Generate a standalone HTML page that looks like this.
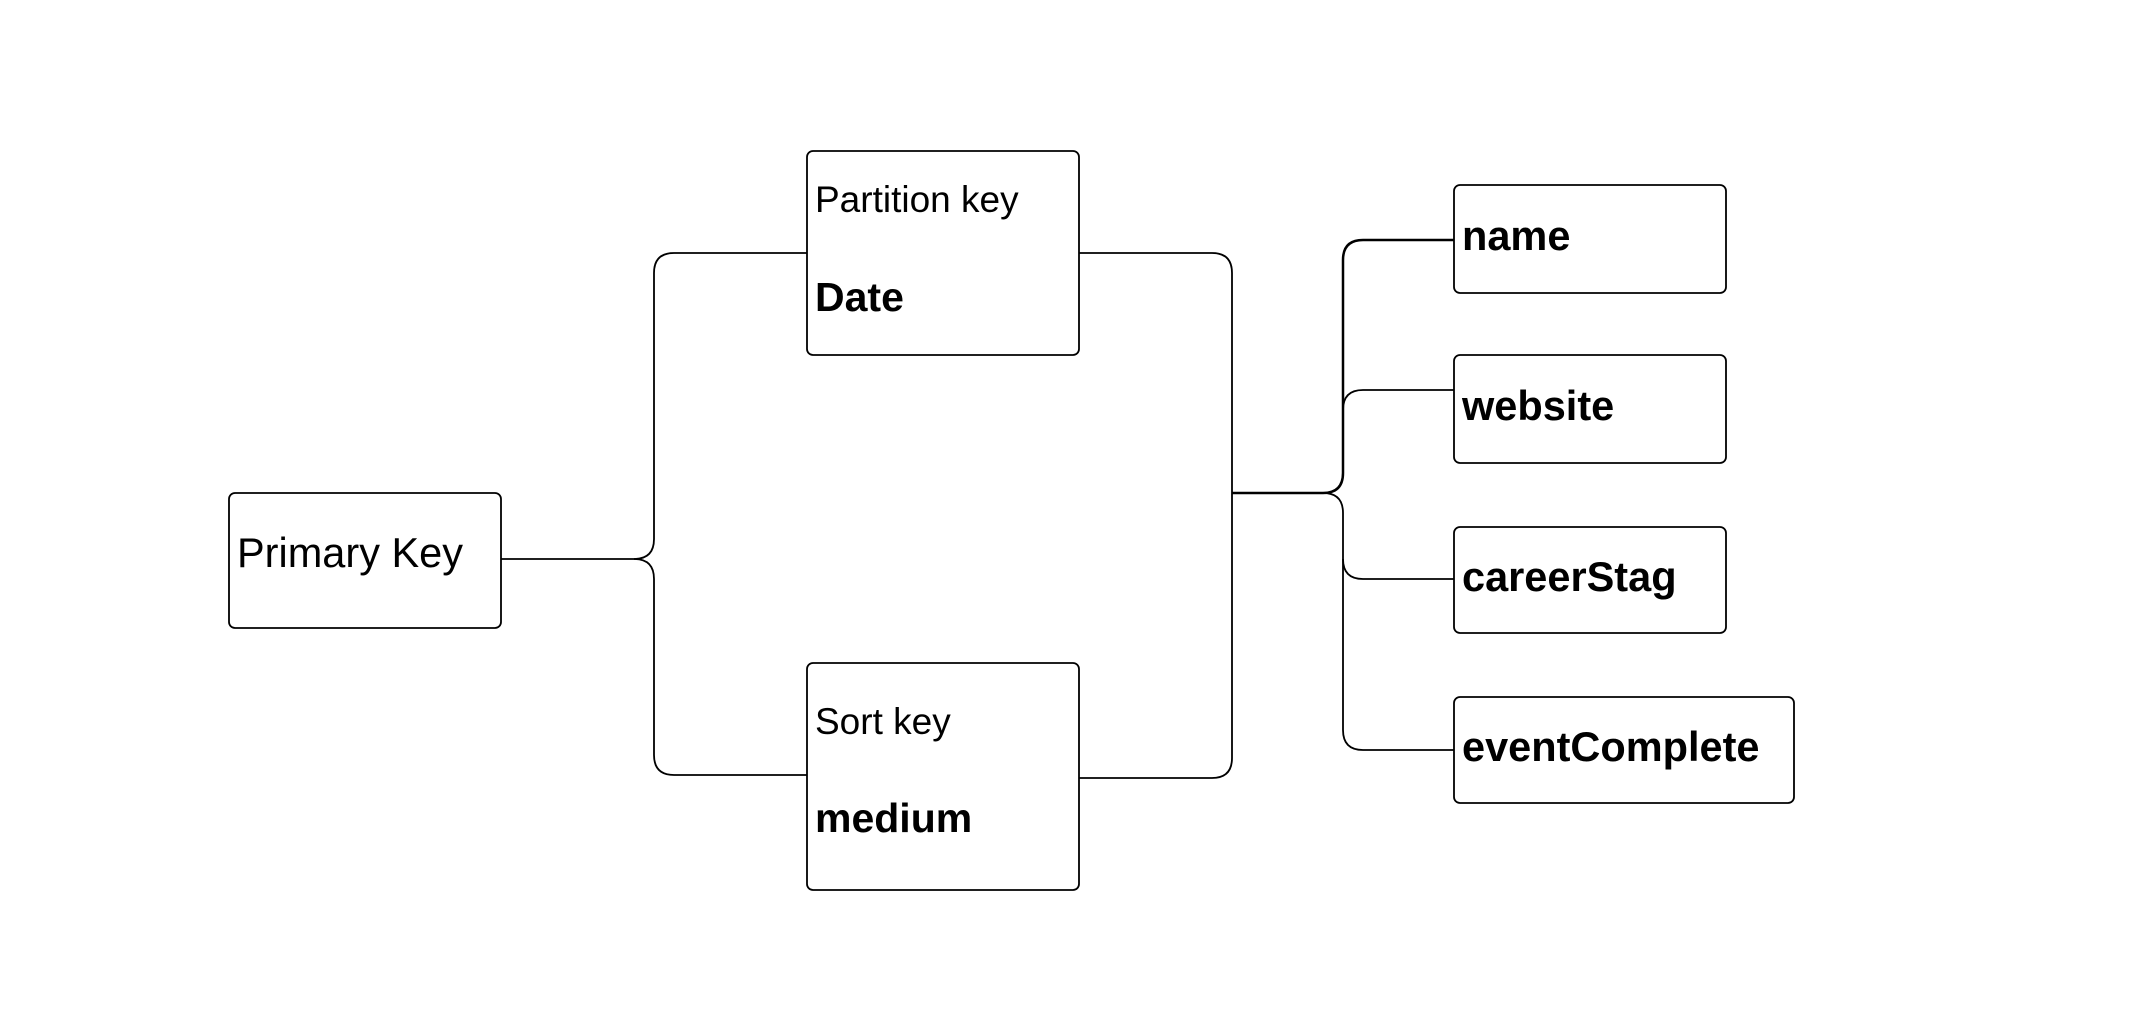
<!DOCTYPE html>
<html><head><style>
html,body{margin:0;padding:0;background:#fff;}
svg text{font-family:"Liberation Sans",Arial,sans-serif;fill:#000;}
</style></head><body>
<svg width="2132" height="1010" viewBox="0 0 2132 1010" xmlns="http://www.w3.org/2000/svg">
<g fill="#fff" stroke="#000" stroke-width="1.8">
<rect x="229" y="493" width="272" height="135" rx="6"/>
<rect x="807" y="151" width="272" height="204" rx="6"/>
<rect x="807" y="663" width="272" height="227" rx="6"/>
<rect x="1454" y="185" width="272" height="108" rx="6"/>
<rect x="1454" y="355" width="272" height="108" rx="6"/>
<rect x="1454" y="527" width="272" height="106" rx="6"/>
<rect x="1454" y="697" width="340" height="106" rx="6"/>
</g>
<g fill="none" stroke="#000" stroke-width="1.8">
<path d="M501 559 H634 Q654 559 654 539 V273 Q654 253 674 253 H807"/>
<path d="M634 559 Q654 559 654 579 V755 Q654 775 674 775 H807"/>
<path d="M1079 253 H1212 Q1232 253 1232 273 V758 Q1232 778 1212 778 H1079"/>
<path d="M1232 493 H1323 Q1343 493 1343 473 V260 Q1343 240 1363 240 H1454" stroke-width="2.5"/>
<path d="M1343 410 Q1343 390 1363 390 H1454"/>
<path d="M1323 493 Q1343 493 1343 513 V730 Q1343 750 1363 750 H1454"/>
<path d="M1343 559 Q1343 579 1363 579 H1454"/>
</g>
<text x="237" y="567" font-size="41.5">Primary Key</text>
<text x="815" y="212" font-size="37">Partition key</text>
<text x="815" y="311" font-size="41" font-weight="bold">Date</text>
<text x="815" y="734" font-size="37">Sort key</text>
<text x="815" y="832" font-size="41" font-weight="bold">medium</text>
<text x="1462" y="250" font-size="41.5" font-weight="bold">name</text>
<text x="1462" y="420" font-size="41.5" font-weight="bold">website</text>
<text x="1462" y="591" font-size="41.5" font-weight="bold">careerStag</text>
<text x="1462" y="761" font-size="41.5" font-weight="bold">eventComplete</text>
</svg>
</body></html>
